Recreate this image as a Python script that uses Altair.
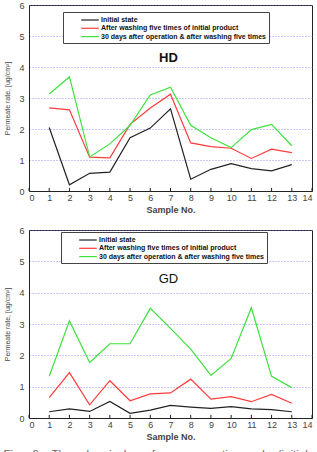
import altair as alt
import pandas as pd

# Sample numbers on the x axis
samples = list(range(1, 14))

series_names = [
    "Initial state",
    "After washing five times of initial product",
    "30 days after operation & after washing five times",
]
series_colors = ["#222222", "#ff3b3b", "#3ee23e"]

# HD permeate rate [ug/cm2]
hd_initial = [2.05, 0.20, 0.57, 0.61, 1.72, 2.03, 2.65, 0.38, 0.70, 0.88, 0.72, 0.65, 0.85]
hd_washed = [2.68, 2.62, 1.09, 1.07, 2.15, 2.68, 3.12, 1.55, 1.43, 1.38, 1.05, 1.35, 1.24]
hd_30days = [3.13, 3.68, 1.10, 1.52, 2.12, 3.10, 3.35, 2.12, 1.72, 1.40, 1.98, 2.15, 1.46]

# GD permeate rate [ug/cm2]
gd_initial = [0.20, 0.29, 0.21, 0.53, 0.15, 0.25, 0.40, 0.35, 0.31, 0.36, 0.29, 0.27, 0.20]
gd_washed = [0.65, 1.45, 0.42, 1.19, 0.55, 0.77, 0.80, 1.24, 0.60, 0.68, 0.52, 0.75, 0.47]
gd_30days = [1.33, 3.10, 1.77, 2.37, 2.37, 3.50, 2.86, 2.20, 1.36, 1.90, 3.52, 1.33, 0.97]

x_ticks = list(range(0, 15))
y_ticks = list(range(0, 7))

FONT = "Arial"
NB3 = "\u00a0" * 3
CAPTION = NB3.join(["Fig.", "6.", "The", "chemical", "surface", "permeation", "value(initial"])


def long_table(initial, washed, days30):
    rows = []
    for name, vals in zip(series_names, [initial, washed, days30]):
        for s, v in zip(samples, vals):
            rows.append({"series": name, "sample": s, "value": v})
    return pd.DataFrame(rows)


# tickCount is kept above the number of values so none of them get thinned out
X_AXIS = alt.Axis(
    values=x_ticks, ticks=False, grid=False, title="Sample No.", format="d",
    labelPadding=2, titlePadding=3, labelOverlap=False, tickCount=30,
)
Y_AXIS = alt.Axis(
    values=y_ticks, ticks=False, grid=True, title="Permeate rate, [ug/cm²]", format="d",
    labelPadding=5, titlePadding=8, labelOverlap=False, tickCount=30,
)


def x_enc():
    return alt.X("sample:Q", scale=alt.Scale(domain=[0, 14], nice=False, zero=False), axis=X_AXIS)


def y_enc():
    return alt.Y("value:Q", scale=alt.Scale(domain=[0, 6], nice=False), axis=Y_AXIS)


def panel(df, label, label_weight, label_x, label_y, legend_x, legend_y, height):
    lines = alt.Chart(df).mark_line(strokeWidth=1.2).encode(
        x=x_enc(),
        y=y_enc(),
        color=alt.Color(
            "series:N",
            sort=series_names,
            scale=alt.Scale(domain=series_names, range=series_colors),
            legend=alt.Legend(
                title=None, orient="none", legendX=legend_x, legendY=legend_y,
                direction="vertical", symbolType="M-2.2,0H2.2", symbolSize=64,
                symbolStrokeWidth=1.2, symbolOffset=19, labelOffset=6,
                labelFont=FONT, labelFontSize=7, labelFontWeight="bold",
                labelColor="#111", labelLimit=400, rowPadding=0.3,
                padding=3, strokeColor="#444", fillColor="white",
            ),
        ),
    )
    # inward tick marks along the bottom axis
    tick_df = pd.DataFrame({"sample": x_ticks, "value": [0] * len(x_ticks), "top": [0.1] * len(x_ticks)})
    ticks = alt.Chart(tick_df).mark_rule(color="#222", strokeWidth=1).encode(
        x=x_enc(), y=y_enc(), y2="top:Q"
    )
    text = alt.Chart(
        pd.DataFrame({"label": [label], "sample": [label_x], "value": [label_y]})
    ).mark_text(
        font=FONT, fontSize=13, fontWeight=label_weight, color="#111"
    ).encode(x=x_enc(), y=y_enc(), text="label:N")
    return alt.layer(lines, ticks, text).properties(width=283, height=height)


top = panel(long_table(hd_initial, hd_washed, hd_30days), "HD", "bold", 6.9, 4.29, 34, 7, 186)
bottom = panel(long_table(gd_initial, gd_washed, gd_30days), "GD", "normal", 6.9, 4.44, 32, 2, 188)

chart = (
    alt.vconcat(top, bottom, spacing=10)
    .resolve_scale(color="independent")
    .resolve_legend(color="independent")
    .properties(
        padding={"left": 3, "top": 0, "right": 0, "bottom": 0},
        title=alt.TitleParams(
            CAPTION, orient="bottom", anchor="start", font=FONT, fontSize=11.5,
            fontWeight="normal", color="#666", offset=7,
        ),
    )
    .configure_view(stroke="#222", strokeWidth=1)
    .configure_axis(
        labelFont=FONT, labelFontSize=9, labelColor="#444",
        titleFont=FONT, titleColor="#444",
        domainColor="#222", domainWidth=1,
        gridColor="#7777ee", gridDash=[1, 2], gridWidth=1, gridOpacity=0.8,
    )
    .configure_axisX(titleFontSize=9, titleFontWeight="bold")
    .configure_axisY(titleFontSize=7, titleFontWeight="normal")
)

chart.save("out.html", embed_options={"renderer": "svg", "actions": False})
